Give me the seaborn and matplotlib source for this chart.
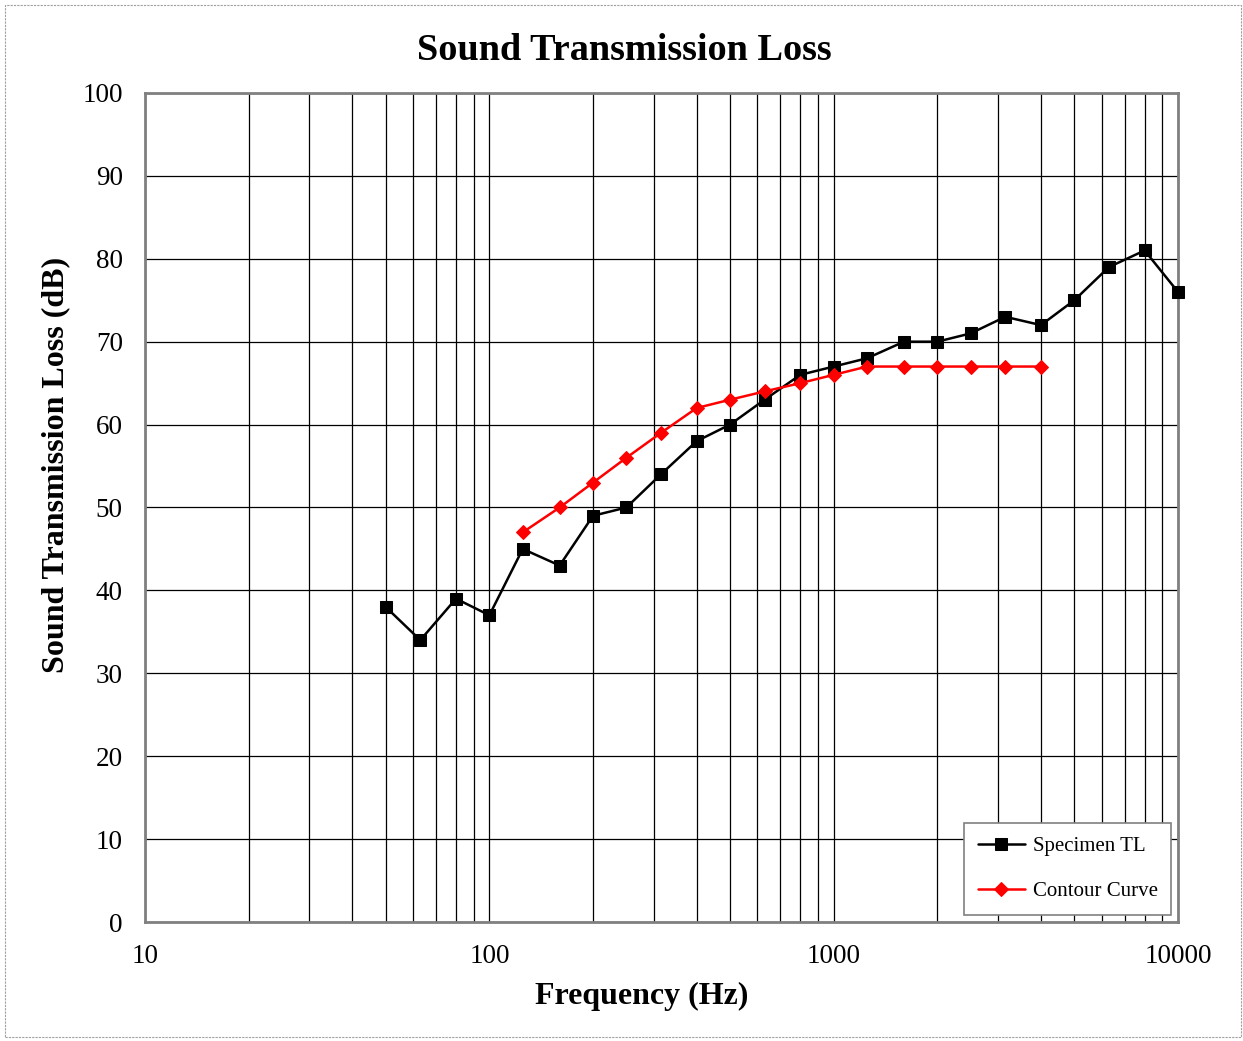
import matplotlib
matplotlib.use("Agg")
import matplotlib.pyplot as plt
import seaborn as sns
import pandas as pd
from matplotlib.patches import Rectangle
from matplotlib.ticker import FixedLocator, LogLocator, NullFormatter

freq_specimen = [50, 63, 80, 100, 125, 160, 200, 250, 315, 400, 500, 630, 800,
                 1000, 1250, 1600, 2000, 2500, 3150, 4000, 5000, 6300, 8000, 10000]
tl_specimen = [38, 34, 39, 37, 45, 43, 49, 50, 54, 58, 60, 63, 66,
               67, 68, 70, 70, 71, 73, 72, 75, 79, 81, 76]
freq_contour = [125, 160, 200, 250, 315, 400, 500, 630, 800, 1000, 1250,
                1600, 2000, 2500, 3150, 4000]
tl_contour = [47, 50, 53, 56, 59, 62, 63, 64, 65, 66, 67, 67, 67, 67, 67, 67]
x_ticks = [10, 100, 1000, 10000]
x_tick_labels = ["10", "100", "1000", "10000"]
y_ticks = list(range(0, 101, 10))

sns.set_style("white")
plt.rcParams['font.family'] = ['Liberation Serif', 'DejaVu Serif']
plt.rcParams['text.color'] = 'black'
plt.rcParams['axes.labelcolor'] = 'black'
plt.rcParams['xtick.color'] = 'black'
plt.rcParams['ytick.color'] = 'black'

fig = plt.figure(figsize=(12.43, 10.41), dpi=100)
ax = fig.add_axes([0.1167, 0.1143, 0.8310, 0.7964])

df_s = pd.DataFrame({"f": freq_specimen, "tl": tl_specimen})
df_c = pd.DataFrame({"f": freq_contour, "tl": tl_contour})

sns.lineplot(data=df_s, x="f", y="tl", ax=ax, color="black", marker="s",
             markersize=9, linewidth=1.8, markeredgecolor="black",
             label="Specimen TL", zorder=4, clip_on=False)
sns.lineplot(data=df_c, x="f", y="tl", ax=ax, color="#ff0000", marker="D",
             markersize=7.5, linewidth=1.8, markeredgecolor="#ff0000",
             label="Contour Curve", zorder=5, clip_on=False)

ax.set_xscale("log")
ax.set_xlim(10, 10000)
ax.set_ylim(0, 100)
ax.xaxis.set_major_locator(FixedLocator(x_ticks))
ax.set_xticklabels(x_tick_labels)
ax.xaxis.set_minor_locator(LogLocator(base=10, subs=range(2, 10)))
ax.xaxis.set_minor_formatter(NullFormatter())
ax.set_yticks(y_ticks)

ax.grid(True, which="major", axis="both", color="black", linewidth=0.9)
ax.grid(True, which="minor", axis="x", color="black", linewidth=0.9)
ax.tick_params(axis="both", which="both", length=0, labelsize=19.5, labelcolor="black")
ax.tick_params(axis="y", pad=16)
ax.tick_params(axis="x", pad=16)

for sp in ax.spines.values():
    sp.set_color("#808080")
    sp.set_linewidth(2)
    sp.set_visible(True)

ax.set_xlabel("")
ax.set_ylabel("")
fig.text(624 / 1243, 1 - 51 / 1041, "Sound Transmission Loss", fontsize=27.5,
         fontweight="bold", ha="center", va="center")
fig.text(642 / 1243, 1 - 996 / 1041, "Frequency (Hz)", fontsize=23,
         fontweight="bold", ha="center", va="center")
fig.text(56 / 1243, 1 - 465 / 1041, "Sound Transmission Loss (dB)", fontsize=23,
         fontweight="bold", ha="center", va="center", rotation=90)

leg = ax.legend(loc="lower right", bbox_to_anchor=(0.9935, 0.009), fontsize=15,
                frameon=True, fancybox=False, labelspacing=1.2, handlelength=2.3,
                borderpad=0.65, handletextpad=0.35, borderaxespad=0)
leg.get_frame().set_edgecolor("#808080")
leg.get_frame().set_linewidth(1.2)
leg.get_frame().set_alpha(1)

fig.patches.append(Rectangle((0.004, 0.004), 0.994, 0.991, transform=fig.transFigure,
                             fill=False, edgecolor="#a0a0a0", linewidth=0.8,
                             linestyle=(0, (2, 1))))

fig.savefig("out.png", dpi=100, facecolor="white")
